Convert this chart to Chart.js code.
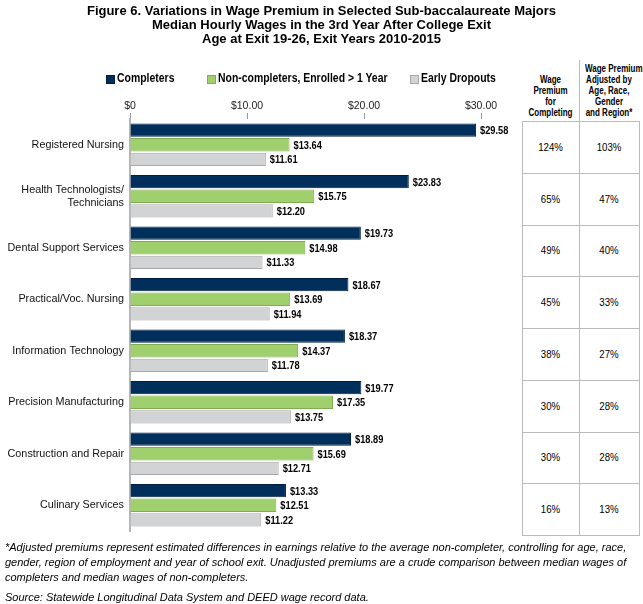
<!DOCTYPE html>
<html>
<head>
<meta charset="utf-8">
<script src="https://cdn.jsdelivr.net/npm/chart.js@4.4.1/dist/chart.umd.min.js"></script>
<style>
  body { margin: 0; background: #fff; font-family: "Liberation Sans", Arial, sans-serif; }
  #wrap { position: relative; width: 643px; height: 604px; overflow: hidden; }
  #title { position: absolute; left: 0; top: 4px; width: 643px; text-align: center; font-weight: bold; font-size: 13px; line-height: 14px; }
  #legend { position: absolute; top: 71px; left: 0; font-weight: bold; font-size: 12px; }
  #legend span { position: absolute; white-space: nowrap; transform: scaleX(0.87); transform-origin: left center; }
  #legend i { position: absolute; width: 7px; height: 7px; top: 4px; }
  #table { position: absolute; left: 0; top: 0; }
  .hd { position: absolute; font-weight: bold; font-size: 10px; line-height: 11px; text-align: center; white-space: nowrap; transform: scaleX(0.8); transform-origin: center top; }
  .cell { position: absolute; font-size: 10.5px; text-align: center; transform: scaleX(0.92); }
  .ln { position: absolute; background: #bbb; }
  #notes { position: absolute; left: 5px; top: 540px; font-style: italic; font-size: 11px; line-height: 15px; width: 640px; }
  #source { position: absolute; left: 5px; top: 590px; font-style: italic; font-size: 11px; line-height: 15px; }
  canvas { position: absolute; left: 0; top: 0; }
</style>
</head>
<body>
<div id="wrap">
  <canvas id="wageChart" width="520" height="604"></canvas>
  <div id="title">Figure 6. Variations in Wage Premium in Selected Sub-baccalaureate Majors<br>Median Hourly Wages in the 3rd Year After College Exit<br>Age at Exit 19-26, Exit Years 2010-2015</div>
  <div id="legend"></div>
  <div id="table"></div>
  <div id="notes">*Adjusted premiums represent estimated differences in earnings relative to the average non-completer, controlling for age, race, gender, region of employment and year of school exit. Unadjusted premiums are a crude comparison between median wages of completers and median wages of non-completers.</div>
  <div id="source">Source: Statewide Longitudinal Data System and DEED wage record data.</div>
</div>
<script>
const majors = ['Registered Nursing', ['Health Technologists/', 'Technicians'], 'Dental Support Services',
    'Practical/Voc. Nursing', 'Information Technology', 'Precision Manufacturing',
    'Construction and Repair', 'Culinary Services'];
const completers = [29.58, 23.83, 19.73, 18.67, 18.37, 19.77, 18.89, 13.33];
const nonCompleters = [13.64, 15.75, 14.98, 13.69, 14.37, 17.35, 15.69, 12.51];
const earlyDropouts = [11.61, 12.20, 11.33, 11.94, 11.78, 13.75, 12.71, 11.22];
const premium = ['124%', '65%', '49%', '45%', '38%', '30%', '30%', '16%'];
const premiumAdjusted = ['103%', '47%', '40%', '33%', '27%', '28%', '28%', '13%'];
const seriesNames = ['Completers', 'Non-completers, Enrolled > 1 Year', 'Early Dropouts'];
const xTicks = [0, 10, 20, 30];

const fills = ['#002f5b', '#a0d06e', '#d2d3d5'];
const borders = ['#001f40', '#7fae52', '#a8a8a8'];

// legend
const legend = document.getElementById('legend');
const legendX = [106, 207, 410];
seriesNames.forEach((name, i) => {
    legend.innerHTML += `<i style="left:${legendX[i]}px;background:${fills[i]};border:1px solid ${borders[i]}"></i>` +
        `<span style="left:${legendX[i] + 11}px">${name}</span>`;
});

// bar value labels, squeezed a little like the original narrow font
const valueLabels = {
    id: 'valueLabels',
    afterDatasetsDraw(chart) {
        const ctx = chart.ctx;
        ctx.save();
        ctx.font = 'bold 11px "Liberation Sans", Arial, sans-serif';
        ctx.fillStyle = '#000';
        ctx.textBaseline = 'middle';
        chart.data.datasets.forEach((ds, i) => {
            chart.getDatasetMeta(i).data.forEach((bar, j) => {
                const txt = '$' + ds.data[j].toFixed(2);
                ctx.fillText(txt, bar.x + 4, bar.y + 1, ctx.measureText(txt).width * 0.84);
            });
        });
        ctx.restore();
    }
};

const chart = new Chart(document.getElementById('wageChart').getContext('2d'), {
    type: 'bar',
    data: {
        labels: majors,
        datasets: [completers, nonCompleters, earlyDropouts].map((d, i) => ({
            label: seriesNames[i], data: d, backgroundColor: fills[i], borderColor: borders[i],
            borderWidth: 1, categoryPercentage: 0.85, barPercentage: 0.92
        }))
    },
    options: {
        indexAxis: 'y',
        responsive: false,
        animation: false,
        devicePixelRatio: 1,
        layout: { padding: { top: 90, bottom: 73, left: 0, right: 39 } },
        plugins: { legend: { display: false }, tooltip: { enabled: false } },
        scales: {
            x: {
                position: 'top', min: 0, max: 30,
                afterBuildTicks: s => { s.ticks = xTicks.map(v => ({ value: v })); },
                afterFit: s => { s.height = 29; },
                grid: { drawOnChartArea: false, drawTicks: true, tickLength: 6, color: '#999' },
                border: { display: false },
                ticks: { font: { size: 10.5, family: 'Liberation Sans' }, color: '#222', padding: 1,
                    callback: v => v === 0 ? '$0' : '$' + v.toFixed(2) }
            },
            y: {
                afterFit: s => { s.width = 130; },
                grid: { drawOnChartArea: false, drawTicks: false },
                border: { display: true, color: '#b5b5b5', width: 2 },
                ticks: { font: { size: 10.8, family: 'Liberation Sans' }, color: '#111', padding: 6 }
            }
        }
    },
    plugins: [valueLabels]
});

// premium table
const table = document.getElementById('table');
const colL = 522, colM = 579, colR = 639;
const tTop = 121, rowH = 51.75;
const tBot = Math.round(tTop + rowH * premium.length);
let html = `<div class="hd" style="left:${colL}px;width:${colM - colL}px;top:74px">Wage<br>Premium<br>for<br>Completing</div>` +
    `<div class="hd" style="left:${colM}px;width:${colR - colM}px;top:63px">Wage Premium<br>Adjusted by<br>Age, Race,<br>Gender<br>and Region*</div>` +
    `<div class="ln" style="left:${colM}px;top:60px;width:1px;height:${tTop - 60}px"></div>`;
[colL, colM, colR].forEach(x => {
    html += `<div class="ln" style="left:${x}px;top:${tTop}px;width:1px;height:${tBot - tTop}px"></div>`;
});
premium.forEach((p, i) => {
    const y0 = Math.round(tTop + rowH * i);
    html += `<div class="ln" style="left:${colL}px;top:${y0}px;width:${colR - colL + 1}px;height:1px"></div>`;
    const yc = tTop + rowH * (i + 0.5);
    html += `<div class="cell" style="left:${colL}px;width:${colM - colL}px;top:${yc - 6}px">${p}</div>`;
    html += `<div class="cell" style="left:${colM}px;width:${colR - colM}px;top:${yc - 6}px">${premiumAdjusted[i]}</div>`;
});
html += `<div class="ln" style="left:${colL}px;top:${tBot}px;width:${colR - colL + 1}px;height:1px"></div>`;
table.innerHTML = html;
</script>
</body>
</html>
